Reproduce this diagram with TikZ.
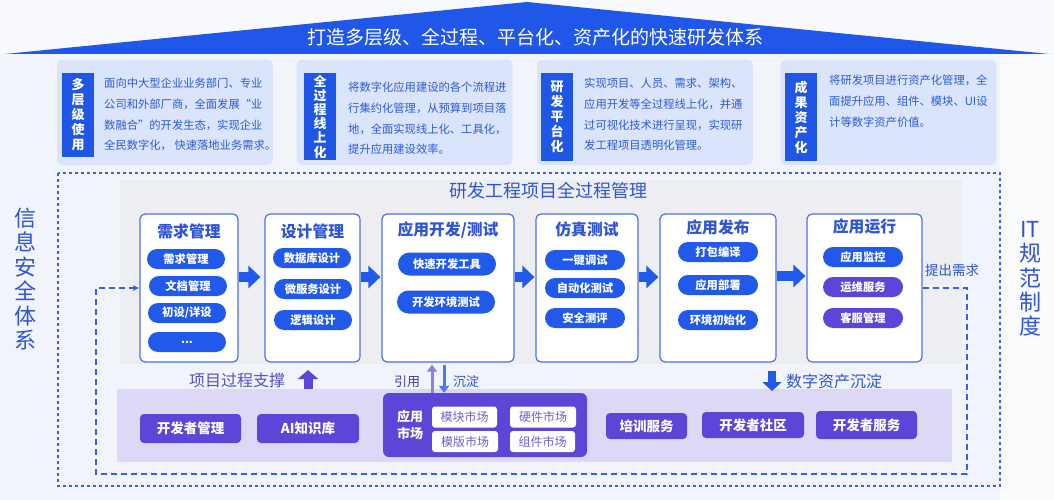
\documentclass[tikz,border=0pt]{standalone}
\usepackage{fontspec}
\setmainfont{Noto Sans CJK SC}
\usetikzlibrary{arrows.meta,calc}
\definecolor{bg}{HTML}{F1F4FA}
\definecolor{bannerblue}{HTML}{2157E8}
\definecolor{infofill}{HTML}{DAE4FB}
\definecolor{labblue}{HTML}{1F56E3}
\definecolor{txtblue}{HTML}{2D5BD8}
\definecolor{panelgray}{HTML}{EDEEF1}
\definecolor{stageborder}{HTML}{4A72E6}
\definecolor{pillblue}{HTML}{2159EA}
\definecolor{purp}{HTML}{5B46D8}
\definecolor{lav}{HTML}{DCD8F6}
\definecolor{dashblue}{HTML}{3C5FE0}
\definecolor{titleblue}{HTML}{2F55D4}
\definecolor{mktext}{HTML}{6D61C9}
\definecolor{supporttext}{HTML}{5450C8}
\tikzset{
  infobox/.style={fill=infofill, rounded corners=5pt, inner sep=0, minimum width=216pt, minimum height=105pt},
  labbox/.style={fill=labblue, text=white, align=center, inner sep=0, minimum width=32pt, font=\fontsize{13}{15}\selectfont\bfseries},
  infotext/.style={text=txtblue, align=left, anchor=north west, inner sep=0, font=\fontsize{11.3}{20.7}\selectfont},
  stagebox/.style={draw=stageborder, line width=1.2pt, fill=white, rounded corners=5pt, inner sep=0, minimum height=148pt},
  stitle/.style={text=titleblue, inner sep=0, font=\fontsize{15.8}{16}\selectfont\bfseries},
  pill/.style={fill=pillblue, text=white, rounded corners=10pt, minimum height=20pt, minimum width=78pt, inner sep=0, font=\fontsize{11.3}{12}\selectfont\bfseries},
  ppill/.style={pill, fill=purp},
  flowarrow/.style={draw=pillblue, line width=10pt, -{Triangle[length=12pt,width=22pt]}, shorten >=1pt},
  loopline/.style={draw=dashblue, line width=1.4pt, dash pattern=on 6pt off 4pt},
  outerdash/.style={draw=dashblue, line width=1.2pt, dash pattern=on 3pt off 3pt},
  bitem/.style={fill=purp, text=white, rounded corners=4pt, inner sep=0, minimum height=28pt, font=\fontsize{13.5}{14}\selectfont\bfseries},
  mitem/.style={fill=white, text=mktext, rounded corners=3pt, inner sep=0, minimum width=66pt, minimum height=21pt, font=\fontsize{12}{12}\selectfont},
  sidetext/.style={text=titleblue, align=center, inner sep=0, font=\fontsize{22}{24.4}\selectfont},
  lbl/.style={inner sep=0}
}
\begin{document}
\begin{tikzpicture}[x=1pt,y=-1pt]
\useasboundingbox (0,0) rectangle (1054,500);
\fill[bg] (0,0) rectangle (1054,500);
\fill[white!60!bg] (1000,55) rectangle (1054,500);
\fill[white!50!bg] (0,0) rectangle (1054,54);

% banner
\fill[bannerblue] (5,54) -- (527,2) -- (1049,54) -- cycle;
\node[lbl, text=white, font=\fontsize{19}{19}\selectfont] (banner) at (535,37) {打造多层级、全过程、平台化、资产化的快速研发体系};

% info boxes
\node[infobox] (i1) at (165,112.5) {};
\node[infobox] (i2) at (404.5,112.5) {};
\node[infobox] (i3) at (645,112.5) {};
\node[infobox] (i4) at (888.5,112.5) {};
\node[labbox, minimum height=84pt] (l1) at (78,115) {多\\层\\级\\使\\用};
\node[labbox, minimum height=87pt, font=\fontsize{13}{14.2}\selectfont\bfseries] (l2) at (320,116.5) {全\\过\\程\\线\\上\\化};
\node[labbox, minimum height=88pt] (l3) at (557,117) {研\\发\\平\\台\\化};
\node[labbox, minimum height=88pt] (l4) at (801,117) {成\\果\\资\\产\\化};
\node[infotext] (t1) at (104,78) {面向中大型企业业务部门、专业\\公司和外部厂商，全面发展“业\\数融合”的开发生态，实现企业\\全民数字化， 快速落地业务需求。};
\node[infotext] (t2) at (348,82) {将数字化应用建设的各个流程进\\行集约化管理，从预算到项目落\\地，全面实现线上化、工具化，\\提升应用建设效率。};
\node[infotext] (t3) at (584,78) {实现项目、人员、需求、架构、\\应用开发等全过程线上化，并通\\过可视化技术进行呈现，实现研\\发工程项目透明化管理。};
\node[infotext] (t4) at (829,75) {将研发项目进行资产化管理，全\\面提升应用、组件、模块、UI设\\计等数字资产价值。};

% outer dashed frame
\draw[outerdash] (58,173) rectangle (1000,486);

% side texts
\node[sidetext] (sec) at (25,279) {信\\息\\安\\全\\体\\系};
\node[sidetext] (itn) at (1030,279) {IT\\规\\范\\制\\度};

% gray panel
\fill[panelgray] (120,180) rectangle (962,364);
\node[lbl, text=titleblue, font=\fontsize{18}{18}\selectfont] (ptitle) at (548,191) {研发工程项目全过程管理};

% stages
\node[stagebox, minimum width=98pt] (b1) at (189,288) {};
\node[stagebox, minimum width=95pt] (b2) at (312.5,288) {};
\node[stagebox, minimum width=132pt] (b3) at (448,288) {};
\node[stagebox, minimum width=102pt] (b4) at (587,288) {};
\node[stagebox, minimum width=116pt] (b5) at (718,288) {};
\node[stagebox, minimum width=115pt] (b6) at (864.5,288) {};

\node[stitle] (s1) at (189,231) {需求管理};
\node[stitle] (s2) at (312.5,231) {设计管理};
\node[stitle] (s3) at (448,230) {应用开发/测试};
\node[stitle] (s4) at (587,229) {仿真测试};
\node[stitle] (s5) at (718,227) {应用发布};
\node[stitle] (s6) at (864.5,227) {应用运行};

\node[pill] (p11) at (186,259) {需求管理};
\node[pill] (p12) at (188,286) {文档管理};
\node[pill] (p13) at (187,313) {初设/详设};
\node[pill] (p14) at (187,342) {...};

\node[pill] (p21) at (312,258) {数据库设计};
\node[pill] (p22) at (313,289) {微服务设计};
\node[pill] (p23) at (313,320) {逻辑设计};

\node[pill, minimum width=98pt, minimum height=23pt, rounded corners=11.5pt] (p31) at (447,264) {快速开发工具};
\node[pill, minimum width=98pt, minimum height=23pt, rounded corners=11.5pt] (p32) at (446,302) {开发环境测试};

\node[pill, minimum width=80pt] (p41) at (585,260) {一键调试};
\node[pill, minimum width=80pt] (p42) at (585,288) {自动化测试};
\node[pill, minimum width=80pt] (p43) at (585,318) {安全测评};

\node[pill, minimum width=80pt] (p51) at (718,252) {打包编译};
\node[pill, minimum width=80pt] (p52) at (718,285) {应用部署};
\node[pill, minimum width=80pt] (p53) at (718,320) {环境初始化};

\node[pill, minimum width=80pt] (p61) at (863,257) {应用监控};
\node[ppill, minimum width=80pt] (p62) at (863,287) {运维服务};
\node[ppill, minimum width=80pt] (p63) at (863,318) {客服管理};

% flow arrows
\draw[flowarrow] ([yshift=11pt]b1.east) -- ([yshift=11pt,xshift=-3pt]b2.west);
\draw[flowarrow] ([yshift=11pt]b2.east) -- ([yshift=11pt]b3.west);
\draw[flowarrow] ([yshift=11pt]b3.east) -- ([yshift=11pt]b4.west);
\draw[flowarrow] ([yshift=11pt]b4.east) -- ([yshift=11pt]b5.west);
\draw[flowarrow] ([yshift=12pt]b5.east) -- ([yshift=12pt]b6.west);

% feedback loop
\node[lbl, text=titleblue, font=\fontsize{13.5}{14}\selectfont] (req) at (952,270) {提出需求};
\coordinate (lr) at (967,474);
\coordinate (ll) at (96,474);
\draw[loopline, -{Latex[length=6pt,width=6pt]}] (b6.east) -| (lr) -- (ll) |- (b1.west);

% bottom panel
\fill[lav] (117,389) rectangle (952,462);
\node[bitem, minimum width=101pt, minimum height=29pt] (dm) at (190.5,428.5) {开发者管理};
\node[bitem, minimum width=102pt, minimum height=29pt] (ai) at (308,428.5) {AI知识库};
\node[fill=purp, rounded corners=6pt, inner sep=0, minimum width=204pt, minimum height=64pt] (mk) at (485,425) {};
\node[lbl, text=white, align=center, font=\fontsize{13}{17}\selectfont\bfseries] (mkt) at (410,425) {应用\\市场};
\node[mitem, minimum width=65pt] (m1) at (464.5,417) {模块市场};
\node[mitem] (m2) at (543,417) {硬件市场};
\node[mitem] (m3) at (465,441.5) {模版市场};
\node[mitem, minimum width=65pt] (m4) at (542.5,441.5) {组件市场};
\node[bitem, minimum width=81pt, minimum height=26pt] (px) at (646.5,426) {培训服务};
\node[bitem, minimum width=102pt, minimum height=26pt] (sq) at (753,425) {开发者社区};
\node[bitem, minimum width=101pt, minimum height=28pt] (fw) at (866.5,425) {开发者服务};

% support labels and arrows
\node[lbl, text=supporttext, font=\fontsize{16}{16}\selectfont] (zc) at (237,380) {项目过程支撑};
\coordinate (pu1) at (308,389);
\coordinate (pu2) at (308,370);
\draw[draw=purp, line width=9pt, -{Triangle[length=9pt,width=20pt]}] (pu1) -- (pu2);

\node[lbl, text=supporttext!80!black, font=\fontsize{13}{14}\selectfont] (yy) at (407,382) {引用};
\node[lbl, text=titleblue, font=\fontsize{13}{14}\selectfont] (cd) at (466,382) {沉淀};
\draw[draw=supporttext!70!white, line width=3pt, -{Triangle[length=7pt,width=10pt]}] ([xshift=-16pt]b3.south |- mk.north) -- ([xshift=-16pt,yshift=-2pt]b3.south);
\draw[draw=pillblue!80!white, line width=3pt, -{Triangle[length=7pt,width=10pt]}] ([xshift=-4pt,yshift=-2pt]b3.south) -- ([xshift=-4pt]b3.south |- mk.north);

\coordinate (da1) at (772,371);
\coordinate (da2) at (772,391);
\draw[draw=pillblue, line width=8pt, -{Triangle[length=9pt,width=19pt]}] (da1) -- (da2);
\node[lbl, text=titleblue, font=\fontsize{16}{16}\selectfont] (szc) at (834,381) {数字资产沉淀};
\end{tikzpicture}
\end{document}
